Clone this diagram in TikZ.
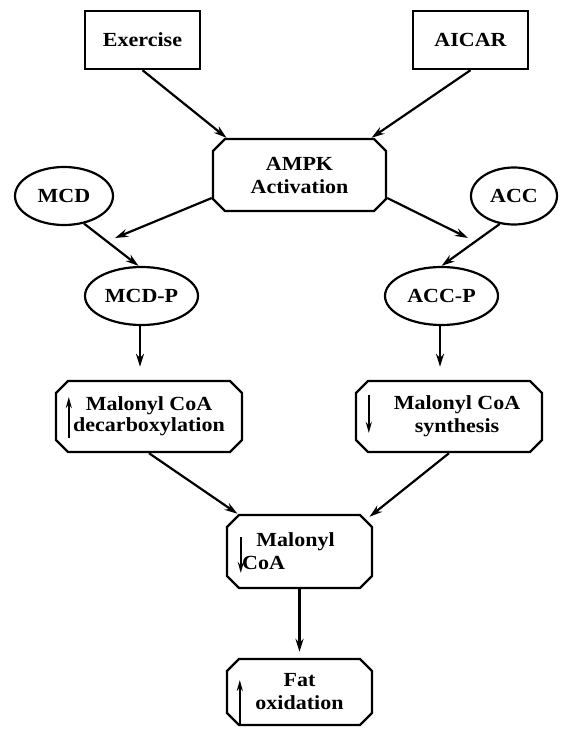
\documentclass[tikz,border=0pt]{standalone}
\usepackage{fontspec}
\setmainfont[FakeStretch=1.1]{Liberation Serif}
\usetikzlibrary{shapes.misc,shapes.geometric,arrows.meta}
\begin{document}
\begin{tikzpicture}[x=1pt,y=-1pt,
  every node/.style={font=\bfseries\fontsize{20}{23}\selectfont, align=center, inner sep=0pt},
  sqbox/.style={draw, line width=2.4pt, rectangle, minimum width=115pt, minimum height=58pt},
  chbox/.style={draw, line width=2.4pt, chamfered rectangle, chamfered rectangle xsep=6pt, chamfered rectangle ysep=6pt},
  oval/.style={draw, line width=2.2pt, ellipse},
  arr/.style={line width=2.2pt, -{Stealth[length=13pt,width=8pt]}},
  uparr/.style={line width=1.9pt, -{Stealth[length=11pt,width=6pt]}},
]
\useasboundingbox (0,0) rectangle (560,730);
\node[sqbox] (ex) at (142.5,40) {Exercise};
\node[sqbox] (aicar) at (470.5,40) {AICAR};
\node[chbox, minimum width=173pt, minimum height=72pt] (ampk) at (299.5,175) {AMPK\\Activation};
\node[oval, minimum width=98pt, minimum height=58pt] (mcd) at (64,196) {MCD};
\node[oval, minimum width=86pt, minimum height=57pt] (acc) at (514,196) {ACC};
\node[oval, minimum width=113pt, minimum height=58pt] (mcdp) at (141.5,296) {MCD-P};
\node[oval, minimum width=113pt, minimum height=58pt] (accp) at (441.5,296) {ACC-P};
\node[chbox, minimum width=186pt, minimum height=71pt, font=\bfseries\fontsize{20}{21}\selectfont] (dec) at (149,416.5) {Malonyl CoA\\decarboxylation};
\node[chbox, minimum width=186pt, minimum height=71pt] (syn) at (449,416.5) {\hspace*{16pt}Malonyl CoA\\\hspace*{16pt}synthesis};
\node[chbox, minimum width=145pt, minimum height=73pt] (mal) at (299.5,551.5) {Malonyl\hspace*{8pt}\\CoA\hspace*{72pt}};
\node[chbox, minimum width=145pt, minimum height=66pt] (fat) at (299.5,692) {Fat\\oxidation};

\coordinate (mcdhit) at (115,238);
\coordinate (acchit) at (468,238);

\draw[arr] (ex.south) -- ([xshift=-73pt]ampk.north);
\draw[arr] (aicar.south) -- ([xshift=72pt]ampk.north);
\draw[arr] ([yshift=-23pt]ampk.west) -- (mcdhit);
\draw[arr] ([yshift=-23pt]ampk.east) -- (acchit);
\draw[arr] (mcd.-54) -- ([xshift=-3pt]mcdp.north);
\draw[arr] (acc.-117) -- (accp.north);
\draw[arr, shorten >=13pt] ([xshift=-1.5pt]mcdp.south) -- ([xshift=-1.5pt]mcdp.south |- dec.north);
\draw[arr, shorten >=13pt] ([xshift=-1.5pt]accp.south) -- ([xshift=-1.5pt]accp.south |- syn.north);
\draw[arr] (dec.south) -- ([xshift=-62pt]mal.north);
\draw[arr] (syn.south) -- ([xshift=70pt,yshift=-3pt]mal.north);
\draw[arr, shorten >=6pt] (mal.south) -- (fat.north);

\draw[uparr] ([xshift=14pt,yshift=-21.5pt]dec.west) -- ([xshift=14pt,yshift=19.5pt]dec.west);
\draw[uparr] ([xshift=14pt,yshift=21.5pt]syn.west) -- ([xshift=14pt,yshift=-16.5pt]syn.west);
\draw[uparr] ([xshift=15pt,yshift=14.5pt]mal.west) -- ([xshift=15pt,yshift=-21.5pt]mal.west);
\draw[uparr] ([xshift=14pt,yshift=-33pt]fat.west) -- ([xshift=14pt,yshift=12pt]fat.west);
\end{tikzpicture}
\end{document}
